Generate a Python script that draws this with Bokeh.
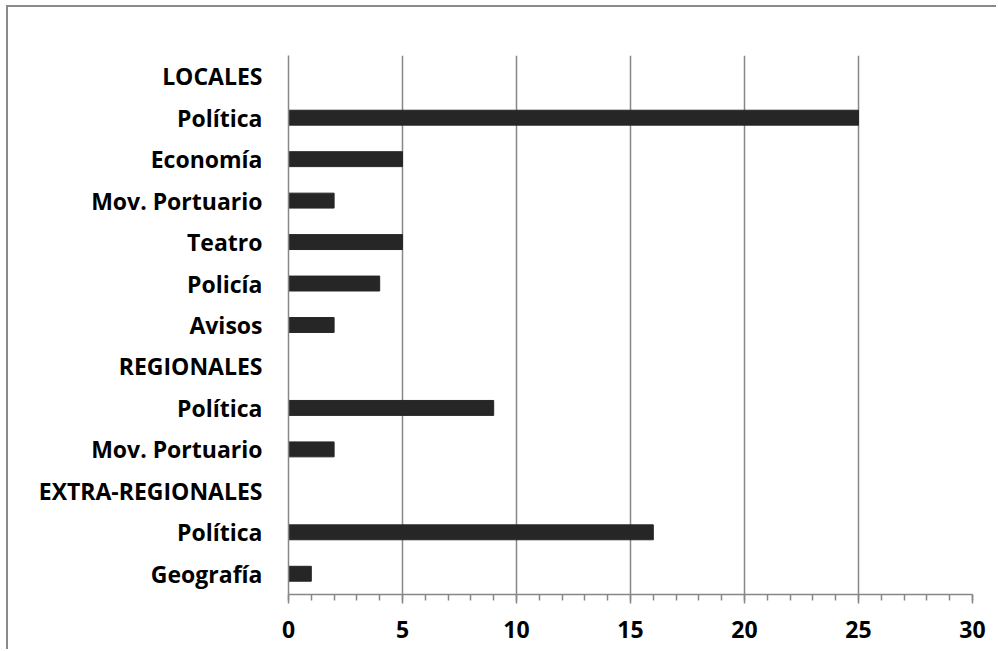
from bokeh.plotting import figure
from bokeh.models import Range1d, FixedTicker, SingleIntervalTicker
from bokeh.embed import file_html
from bokeh.resources import INLINE

# Rows from top to bottom; section headers have no bar
categories = [
    "LOCALES", "Política", "Economía", "Mov. Portuario", "Teatro", "Policía", "Avisos",
    "REGIONALES", "Política", "Mov. Portuario",
    "EXTRA-REGIONALES", "Política", "Geografía",
]
counts = [None, 25, 5, 2, 5, 4, 2, None, 9, 2, None, 16, 1]
x_ticks = [0, 5, 10, 15, 20, 25, 30]

FONT = "Open Sans"
GRID = "#878787"
BAR = "#262626"

n = len(categories)
rows = list(range(n))
bar_rows = [r for r, v in zip(rows, counts) if v is not None]
bar_vals = [v for v in counts if v is not None]

OFF_X, OFF_Y = 8, 7  # space taken by the frame around the chart

p = figure(
    width=998 - OFF_X, height=651 - OFF_Y,
    x_range=Range1d(x_ticks[0], x_ticks[-1]), y_range=Range1d(n - 0.5, -0.5),
    output_backend="svg", toolbar_location=None,
    min_border_left=288 - OFF_X, min_border_right=26,
    min_border_top=55 - OFF_Y, min_border_bottom=57,
    styles={
        "margin-left": "6px", "margin-top": "5px",
        "border-left": "2px solid #8a8a8a", "border-top": "2px solid #8a8a8a",
    },
)
p.outline_line_color = None
p.background_fill_color = "white"
p.border_fill_color = "white"

p.hbar(y=bar_rows, right=bar_vals, left=0, height=0.36, color=BAR)

# x axis
xa = p.xaxis[0]
xa.ticker = SingleIntervalTicker(interval=5, num_minor_ticks=5)
xa.axis_line_color = GRID
xa.axis_line_width = 1.5
xa.major_tick_line_color = GRID
xa.major_tick_line_width = 1.5
xa.major_tick_in = 0
xa.major_tick_out = 9
xa.minor_tick_line_color = GRID
xa.minor_tick_line_width = 1.5
xa.minor_tick_in = 0
xa.minor_tick_out = 6
xa.major_label_text_font = FONT
xa.major_label_text_font_style = "bold"
xa.major_label_text_font_size = "23px"
xa.major_label_text_color = "black"
xa.major_label_standoff = 17

# y axis with category names
ya = p.yaxis[0]
ya.ticker = FixedTicker(ticks=rows)
ya.major_label_overrides = {r: c for r, c in zip(rows, categories)}
ya.axis_line_color = GRID
ya.axis_line_width = 1.5
ya.major_tick_line_color = None
ya.minor_tick_line_color = None
ya.major_label_text_font = FONT
ya.major_label_text_font_style = "bold"
ya.major_label_text_font_size = "23px"
ya.major_label_text_color = "black"
ya.major_label_standoff = 20

p.xgrid.ticker = SingleIntervalTicker(interval=5)
p.xgrid.grid_line_color = GRID
p.xgrid.grid_line_width = 1.5
p.ygrid.grid_line_color = None

open("out.html", "w").write(file_html(p, INLINE))
